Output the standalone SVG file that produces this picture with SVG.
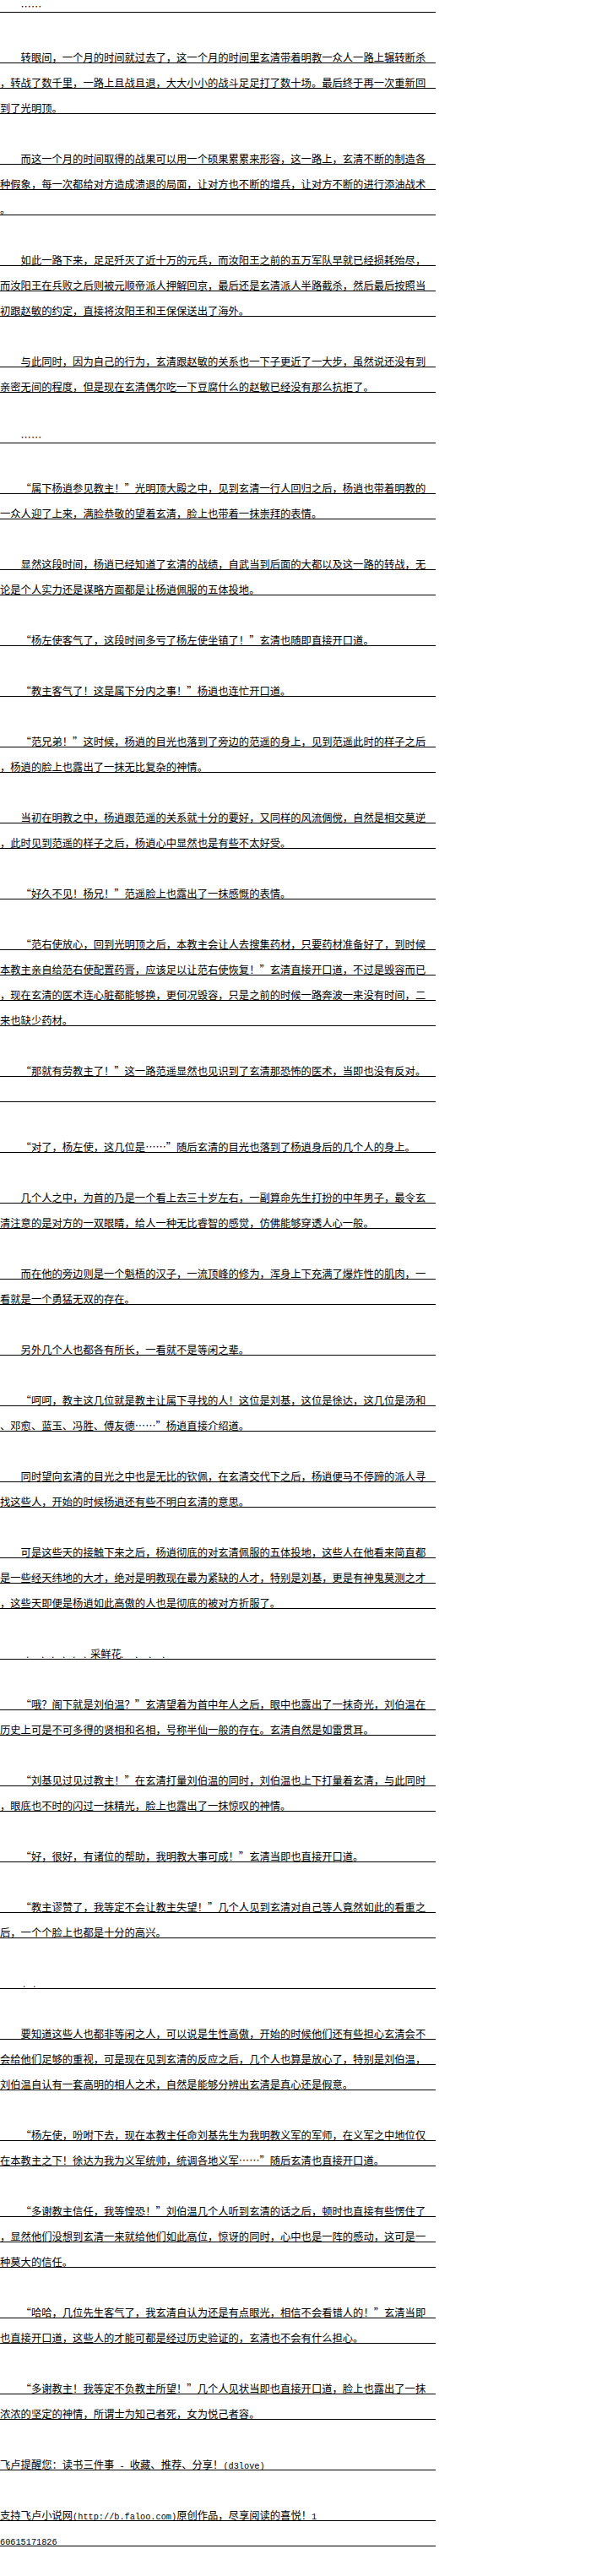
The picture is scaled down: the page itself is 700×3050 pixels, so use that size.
<svg xmlns="http://www.w3.org/2000/svg" width="700" height="3050" viewBox="0 0 700 3050">
<style>
.t{font-family:"Noto Sans CJK SC","Noto Sans CJK TC",sans-serif;font-size:12.3px;fill:#000}
.m{font-family:"Liberation Mono","DejaVu Sans Mono",monospace;font-size:10.25px}
.d{font-family:"Liberation Sans",sans-serif;font-size:12px;fill:#000}
.r{stroke:#000;stroke-width:1;fill:none}
</style>
<rect width="700" height="3050" fill="#fff"/>
<g id="rules">
<path class="r" d="M0 14.5H516M0 74.5H516M0 104.5H516M0 134.5H516M0 194.5H516M0 224.5H516M0 254.5H516M0 314.5H516M0 344.5H516M0 374.5H516M0 434.5H516M0 464.5H516M0 524.5H516M0 584.5H516M0 614.5H516M0 674.5H516M0 704.5H516M0 764.5H516M0 824.5H516M0 884.5H516M0 914.5H516M0 974.5H516M0 1004.5H516M0 1064.5H516M0 1124.5H516M0 1154.5H516M0 1184.5H516M0 1214.5H516M0 1274.5H516M0 1304.5H516M0 1364.5H516M0 1424.5H516M0 1454.5H516M0 1514.5H516M0 1544.5H516M0 1604.5H516M0 1664.5H516M0 1694.5H516M0 1754.5H516M0 1784.5H516M0 1844.5H516M0 1874.5H516M0 1904.5H516M0 1964.5H516M0 2024.5H516M0 2054.5H516M0 2114.5H516M0 2144.5H516M0 2204.5H516M0 2264.5H516M0 2294.5H516M0 2354.5H516M0 2414.5H516M0 2444.5H516M0 2474.5H516M0 2534.5H516M0 2564.5H516M0 2624.5H516M0 2654.5H516M0 2684.5H516M0 2744.5H516M0 2774.5H516M0 2834.5H516M0 2864.5H516M0 2924.5H516M0 2984.5H516M0 3014.5H516"/>
</g>
<g id="text" class="t">
<text x="24.6" y="13">……</text>
<text x="24.6" y="73">转眼间，一个月的时间就过去了，这一个月的时间里玄清带着明教一众人一路上辗转断杀</text>
<text x="0" y="103">，转战了数千里，一路上且战且退，大大小小的战斗足足打了数十场。最后终于再一次重新回</text>
<text x="0" y="133">到了光明顶。</text>
<text x="24.6" y="193">而这一个月的时间取得的战果可以用一个硕果累累来形容，这一路上，玄清不断的制造各</text>
<text x="0" y="223">种假象，每一次都给对方造成溃退的局面，让对方也不断的增兵，让对方不断的进行添油战术</text>
<text x="0" y="253">。</text>
<text x="24.6" y="313">如此一路下来，足足歼灭了近十万的元兵，而汝阳王之前的五万军队早就已经损耗殆尽，</text>
<text x="0" y="343">而汝阳王在兵败之后则被元顺帝派人押解回京，最后还是玄清派人半路截杀，然后最后按照当</text>
<text x="0" y="373">初跟赵敏的约定，直接将汝阳王和王保保送出了海外。</text>
<text x="24.6" y="433">与此同时，因为自己的行为，玄清跟赵敏的关系也一下子更近了一大步，虽然说还没有到</text>
<text x="0" y="463">亲密无间的程度，但是现在玄清偶尔吃一下豆腐什么的赵敏已经没有那么抗拒了。</text>
<text x="24.6" y="523">……</text>
<text x="24.6" y="583">“属下杨逍参见教主！”光明顶大殿之中，见到玄清一行人回归之后，杨逍也带着明教的</text>
<text x="0" y="613">一众人迎了上来，满脸恭敬的望着玄清，脸上也带着一抹崇拜的表情。</text>
<text x="24.6" y="673">显然这段时间，杨逍已经知道了玄清的战绩，自武当到后面的大都以及这一路的转战，无</text>
<text x="0" y="703">论是个人实力还是谋略方面都是让杨逍佩服的五体投地。</text>
<text x="24.6" y="763">“杨左使客气了，这段时间多亏了杨左使坐镇了！”玄清也随即直接开口道。</text>
<text x="24.6" y="823">“教主客气了！这是属下分内之事！”杨逍也连忙开口道。</text>
<text x="24.6" y="883">“范兄弟！”这时候，杨逍的目光也落到了旁边的范遥的身上，见到范遥此时的样子之后</text>
<text x="0" y="913">，杨逍的脸上也露出了一抹无比复杂的神情。</text>
<text x="24.6" y="973">当初在明教之中，杨逍跟范遥的关系就十分的要好，又同样的风流倜傥，自然是相交莫逆</text>
<text x="0" y="1003">，此时见到范遥的样子之后，杨逍心中显然也是有些不太好受。</text>
<text x="24.6" y="1063">“好久不见！杨兄！”范遥脸上也露出了一抹感慨的表情。</text>
<text x="24.6" y="1123">“范右使放心，回到光明顶之后，本教主会让人去搜集药材，只要药材准备好了，到时候</text>
<text x="0" y="1153">本教主亲自给范右使配置药膏，应该足以让范右使恢复！”玄清直接开口道，不过是毁容而已</text>
<text x="0" y="1183">，现在玄清的医术连心脏都能够换，更何况毁容，只是之前的时候一路奔波一来没有时间，二</text>
<text x="0" y="1213">来也缺少药材。</text>
<text x="24.6" y="1273">“那就有劳教主了！”这一路范遥显然也见识到了玄清那恐怖的医术，当即也没有反对。</text>
<text x="24.6" y="1363">“对了，杨左使，这几位是……”随后玄清的目光也落到了杨逍身后的几个人的身上。</text>
<text x="24.6" y="1423">几个人之中，为首的乃是一个看上去三十岁左右，一副算命先生打扮的中年男子，最令玄</text>
<text x="0" y="1453">清注意的是对方的一双眼睛，给人一种无比睿智的感觉，仿佛能够穿透人心一般。</text>
<text x="24.6" y="1513">而在他的旁边则是一个魁梧的汉子，一流顶峰的修为，浑身上下充满了爆炸性的肌肉，一</text>
<text x="0" y="1543">看就是一个勇猛无双的存在。</text>
<text x="24.6" y="1603">另外几个人也都各有所长，一看就不是等闲之辈。</text>
<text x="24.6" y="1663">“呵呵，教主这几位就是教主让属下寻找的人！这位是刘基，这位是徐达，这几位是汤和</text>
<text x="0" y="1693">、邓愈、蓝玉、冯胜、傅友德……”杨逍直接介绍道。</text>
<text x="24.6" y="1753">同时望向玄清的目光之中也是无比的钦佩，在玄清交代下之后，杨逍便马不停蹄的派人寻</text>
<text x="0" y="1783">找这些人，开始的时候杨逍还有些不明白玄清的意思。</text>
<text x="24.6" y="1843">可是这些天的接触下来之后，杨逍彻底的对玄清佩服的五体投地，这些人在他看来简直都</text>
<text x="0" y="1873">是一些经天纬地的大才，绝对是明教现在最为紧缺的人才，特别是刘基，更是有神鬼莫测之才</text>
<text x="0" y="1903">，这些天即便是杨逍如此高傲的人也是彻底的被对方折服了。</text>
<text class="d" x="31 49 61 74 86 99" y="1963">......</text>
<text x="107" y="1963">采鲜花</text>
<text class="d" x="143 160 176 192" y="1963">....</text>
<text x="24.6" y="2023">“哦？阁下就是刘伯温？”玄清望着为首中年人之后，眼中也露出了一抹奇光，刘伯温在</text>
<text x="0" y="2053">历史上可是不可多得的贤相和名相，号称半仙一般的存在。玄清自然是如雷贯耳。</text>
<text x="24.6" y="2113">“刘基见过见过教主！”在玄清打量刘伯温的同时，刘伯温也上下打量着玄清，与此同时</text>
<text x="0" y="2143">，眼底也不时的闪过一抹精光，脸上也露出了一抹惊叹的神情。</text>
<text x="24.6" y="2203">“好，很好，有诸位的帮助，我明教大事可成！”玄清当即也直接开口道。</text>
<text x="24.6" y="2263">“教主谬赞了，我等定不会让教主失望！”几个人见到玄清对自己等人竟然如此的看重之</text>
<text x="0" y="2293">后，一个个脸上也都是十分的高兴。</text>
<text class="d" x="27 39" y="2353">..</text>
<text x="24.6" y="2413">要知道这些人也都非等闲之人，可以说是生性高傲，开始的时候他们还有些担心玄清会不</text>
<text x="0" y="2443">会给他们足够的重视，可是现在见到玄清的反应之后，几个人也算是放心了，特别是刘伯温，</text>
<text x="0" y="2473">刘伯温自认有一套高明的相人之术，自然是能够分辨出玄清是真心还是假意。</text>
<text x="24.6" y="2533">“杨左使，吩咐下去，现在本教主任命刘基先生为我明教义军的军师，在义军之中地位仅</text>
<text x="0" y="2563">在本教主之下！徐达为我为义军统帅，统调各地义军……”随后玄清也直接开口道。</text>
<text x="24.6" y="2623">“多谢教主信任，我等惶恐！”刘伯温几个人听到玄清的话之后，顿时也直接有些愣住了</text>
<text x="0" y="2653">，显然他们没想到玄清一来就给他们如此高位，惊讶的同时，心中也是一阵的感动，这可是一</text>
<text x="0" y="2683">种莫大的信任。</text>
<text x="24.6" y="2743">“哈哈，几位先生客气了，我玄清自认为还是有点眼光，相信不会看错人的！”玄清当即</text>
<text x="0" y="2773">也直接开口道，这些人的才能可都是经过历史验证的，玄清也不会有什么担心。</text>
<text x="24.6" y="2833">“多谢教主！我等定不负教主所望！”几个人见状当即也直接开口道，脸上也露出了一抹</text>
<text x="0" y="2863">浓浓的坚定的神情，所谓士为知己者死，女为悦己者容。</text>
<text x="0" y="2923" xml:space="preserve">飞卢提醒您：读书三件事<tspan class="m"> - </tspan>收藏、推荐、分享！<tspan class="m">(d3love)</tspan></text>
<text x="0" y="2983">支持飞卢小说网<tspan class="m">(http://b.faloo.com)</tspan>原创作品，尽享阅读的喜悦！<tspan class="m">1</tspan></text>
<text x="0" y="3013"><tspan class="m">60615171826</tspan></text>
</g>
</svg>
